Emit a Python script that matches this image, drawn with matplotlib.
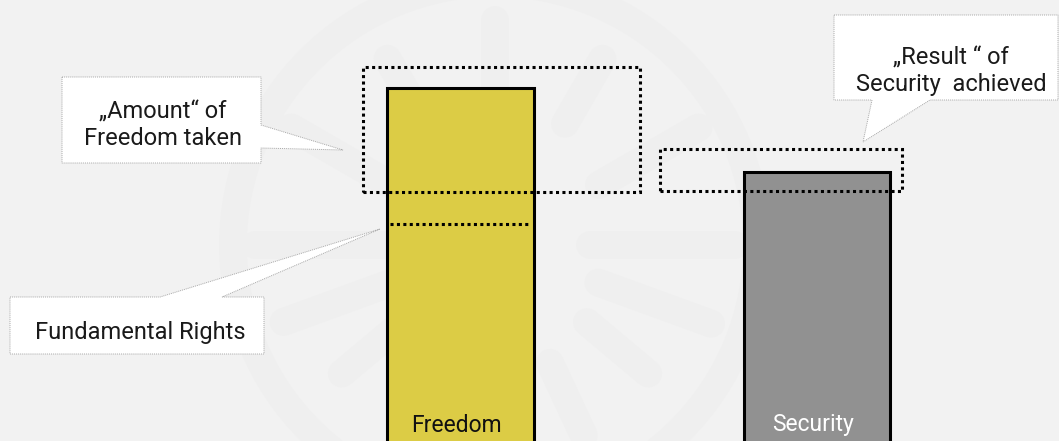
import numpy as np
import matplotlib
matplotlib.use("Agg")
import matplotlib.pyplot as plt
from matplotlib.patches import Polygon, Rectangle, Circle

# chart data (heights in canvas units, bottom of the picture = 0)
categories = ["Freedom", "Security"]
bar_centers = [460.5, 817]
bar_widths = [147, 146]
values = [353, 269]
bar_colors = ["#DCCC45", "#919191"]
label_colors = ["#111111", "#FFFFFF"]
rights_level = 217          # dotted "Fundamental Rights" line inside Freedom
taken_band = (249, 374)     # dotted box around the top of Freedom
result_band = (250, 292)    # dotted box around the top of Security

W, H = 1059, 441
BG = "#F2F2F2"
plt.rcParams['font.family'] = ['Roboto', 'DejaVu Sans']

fig = plt.figure(figsize=(W / 100, H / 100), dpi=100, facecolor=BG)
ax = fig.add_axes([0, 0, 1, 1])
ax.set_xlim(0, W)
ax.set_ylim(0, H)
ax.axis("off")
ax.set_facecolor(BG)


def fy(py):
    # picture y (from top) -> data y
    return H - py


# faint watermark logo in the background
wm = "#EFEFEF"
cx, cy = 495, fy(245)
ax.add_patch(Circle((cx, cy), 262, fill=False, ec=wm, lw=20, zorder=0))
for ang, r0, r1 in [(90, 150, 225), (60, 140, 215), (30, 120, 235), (0, 95, 240),
                    (-20, 110, 230), (-40, 120, 200), (-65, 130, 210), (-90, 140, 215),
                    (-115, 130, 210), (-140, 120, 200), (-160, 110, 225), (180, 95, 240),
                    (150, 120, 235), (120, 140, 215)]:
    a = np.deg2rad(ang)
    ax.plot([cx + r0 * np.cos(a), cx + r1 * np.cos(a)],
            [cy + r0 * np.sin(a), cy + r1 * np.sin(a)],
            color=wm, lw=20, solid_capstyle="round", zorder=0)

# bars (start below the canvas so the bottom edge is hidden)
base = -10
ax.bar(bar_centers, [v - base for v in values], width=bar_widths, bottom=base,
       color=bar_colors, edgecolor="black", linewidth=2.2, zorder=3)
for x, name, c in zip(bar_centers, categories, label_colors):
    ax.text(x - 4, fy(425), name, ha="center", va="center", fontsize=16.5,
            color=c, zorder=5)

dot = (0, (1, 1.1))

# dotted line for fundamental rights
ax.plot([bar_centers[0] - bar_widths[0] / 2 + 3, bar_centers[0] + bar_widths[0] / 2 - 3],
        [rights_level, rights_level], color="black", lw=2.2, ls=dot, zorder=4)

# dotted bands
ax.add_patch(Rectangle((363, taken_band[0]), 640 - 363, taken_band[1] - taken_band[0],
                       fill=False, ec="black", lw=2.2, ls=dot, zorder=4))
ax.add_patch(Rectangle((660, result_band[0]), 902 - 660, result_band[1] - result_band[0],
                       fill=False, ec="black", lw=2.2, ls=dot, zorder=4))


def callout(pts):
    poly = Polygon([(x, fy(y)) for x, y in pts], closed=True, fc="white",
                   ec="#A8A8A8", lw=0.7, ls=(0, (1, 1)), zorder=6)
    ax.add_patch(poly)


txt = dict(ha="center", va="center", fontsize=17, color="#1A1A1A", zorder=7)

# "Amount" of Freedom taken
callout([(62, 77), (261, 77), (261, 125), (343, 150), (261, 148), (261, 163), (62, 163)])
ax.text(163, fy(125), "\u201eAmount\u201c of\nFreedom taken", linespacing=1.2, **txt)

# Fundamental Rights
callout([(10, 297), (160, 297), (380, 229), (222, 297), (264, 297), (264, 354), (10, 354)])
ax.text(140, fy(333), "Fundamental Rights", **txt)

# "Result" of Security achieved
callout([(834, 15), (1058, 15), (1058, 100), (930, 100), (863, 142), (872, 100), (834, 100)])
ax.text(951, fy(71), "\u201eResult \u201c of\nSecurity  achieved", linespacing=1.2, **txt)

fig.savefig("out.png", dpi=100, facecolor=BG)
